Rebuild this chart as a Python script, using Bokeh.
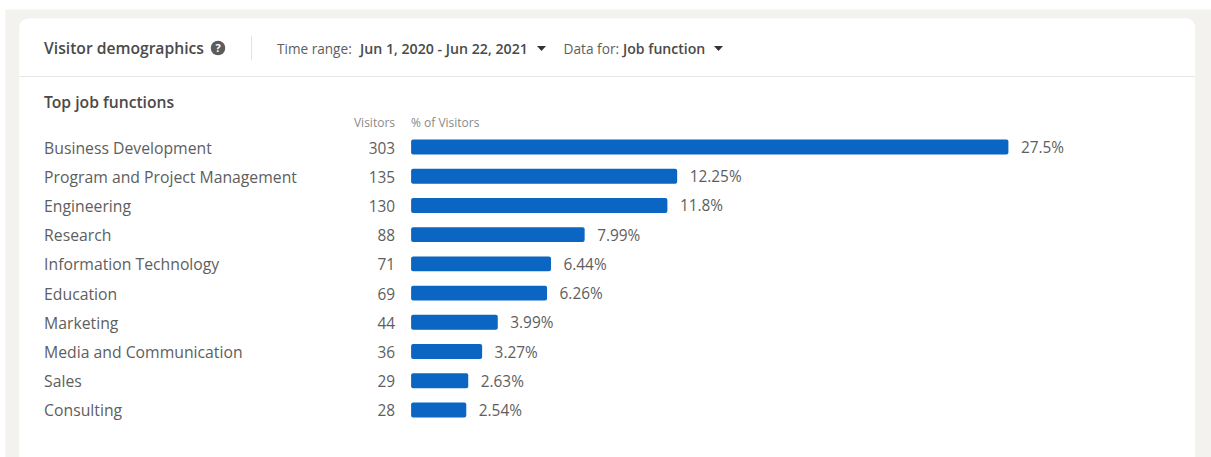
from bokeh.core.properties import value
from bokeh.embed import file_html
from bokeh.models import BoxAnnotation, ColumnDataSource, Range1d
from bokeh.plotting import figure
from bokeh.resources import INLINE

# Visitor table contents
job_functions = ["Business Development", "Program and Project Management", "Engineering",
                 "Research", "Information Technology", "Education", "Marketing",
                 "Media and Communication", "Sales", "Consulting"]
visitors = [303, 135, 130, 88, 71, 69, 44, 36, 29, 28]
visitor_share = [27.5, 12.25, 11.8, 7.99, 6.44, 6.26, 3.99, 3.27, 2.63, 2.54]

W, H = 1211, 457
FONT = "Open Sans"
FONT_HEAVY = "Open Sans SemiBold"
TEXT = "#5e5e5e"
DARK = "#4a4a4a"

# Scale: one percent of visitors and one table row, in page pixels
PX_PER_PCT = 21.72
ROW_H = 29.22
ZERO_X = 410.6
FIRST_ROW_Y = 146.5


def fx(px):
    return (px - ZERO_X) / PX_PER_PCT


def fy(px):
    return (px - FIRST_ROW_Y) / ROW_H


p = figure(width=W, height=H, output_backend="svg", toolbar_location=None,
           x_range=Range1d(fx(0), fx(W)), y_range=Range1d(fy(H), fy(0)),
           min_border=0, outline_line_color=None, background_fill_color="white",
           border_fill_color="white")
p.axis.visible = False
p.grid.visible = False

# Page backdrop and the rounded card
p.add_layout(BoxAnnotation(left=fx(5), right=fx(W + 20), top=fy(9), bottom=fy(H + 20),
                           fill_color="#f3f2ef", fill_alpha=1, line_color=None, level="underlay"))
p.add_layout(BoxAnnotation(left=fx(18.5), right=fx(1195), top=fy(17.5), bottom=fy(H + 20),
                           fill_color="white", fill_alpha=1, line_color="#e8e7e4", line_width=1,
                           border_radius=9, level="underlay"))


def rule(x0, x1, y0, y1, color):
    p.segment([fx(x0)], [fy(y0)], [fx(x1)], [fy(y1)], line_color=color, line_width=1)


rule(19, 1195, 76, 76, "#e8e8e6")
rule(251, 251, 35, 60, "#e4e4e2")


def caption(px, py, text, size, color=TEXT, align="left", font=FONT, style="normal"):
    p.text([fx(px)], [fy(py)], text=[text], text_font=value(font), text_font_size=f"{size}px",
           text_color=color, text_align=align, text_baseline="middle", text_font_style=style)


# Header strip
caption(43.5, 47.5, "Visitor demographics", 15.7, DARK, font=FONT_HEAVY)
p.scatter([fx(217.5)], [fy(47.5)], size=14.5, marker="circle", fill_color="#5c5c5c", line_color=None)
caption(217.5, 47, "?", 11, "white", "center", style="bold")
caption(276.5, 47.5, "Time range:", 13.6, TEXT)
caption(359.5, 47.5, "Jun 1, 2020 - Jun 22, 2021", 14.2, DARK, font=FONT_HEAVY)
for arrow_x in (541, 718):
    p.patch([fx(arrow_x - 4.5), fx(arrow_x + 4.5), fx(arrow_x)],
            [fy(45.5), fy(45.5), fy(50.5)], fill_color="#333333", line_color=None)
caption(563, 47.5, "Data for:", 13.7, TEXT)
caption(622.5, 47.5, "Job function", 14.1, DARK, font=FONT_HEAVY)

# Table headings
caption(43.5, 101.5, "Top job functions", 15.7, DARK, font=FONT_HEAVY)
caption(394.5, 122, "Visitors", 12, "#8a8a8a", "right")
caption(410.5, 122, "% of Visitors", 12, "#8a8a8a")

rows = list(range(len(job_functions)))
source = ColumnDataSource(dict(
    row=rows,
    name=job_functions,
    count=[str(v) for v in visitors],
    share=visitor_share,
    share_label=[f"{v:g}%" for v in visitor_share],
    zero=[0] * len(rows),
))

p.hbar(y="row", left=0, right="share", height=0.51, source=source,
       fill_color="#0a66c2", line_color=None, border_radius=2)
p.text(x="zero", y="row", text="name", source=source, x_offset=-367, y_offset=0.5,
       text_font=value(FONT), text_font_size="15.75px", text_color=TEXT, text_baseline="middle")
p.text(x="zero", y="row", text="count", source=source, x_offset=-16, y_offset=0.5,
       text_font=value(FONT), text_font_size="15.4px", text_color=TEXT, text_baseline="middle",
       text_align="right")
p.text(x="share", y="row", text="share_label", source=source, x_offset=12.5, y_offset=0.5,
       text_font=value(FONT), text_font_size="15.4px", text_color=TEXT, text_baseline="middle")

open("out.html", "w").write(file_html(p, INLINE))
